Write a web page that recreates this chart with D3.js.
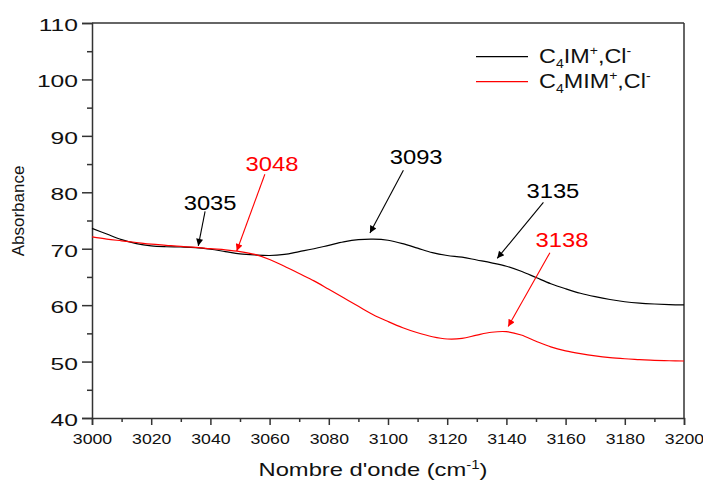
<!DOCTYPE html>
<html>
<head>
<meta charset="utf-8">
<script src="https://cdn.jsdelivr.net/npm/d3@7"></script>
<style>
  body { margin: 0; background: #fff; }
  text { font-family: "Liberation Sans", Arial, sans-serif; }
</style>
</head>
<body>
<div id="chart"></div>
<script>
// IR spectra, 3000-3200 cm-1
const wavenumbers = d3.range(3000, 3201, 5);

const c4imValues = [
  73.6, 72.6, 71.6, 70.9, 70.5, 70.35, 70.3, 70.2, 69.9, 69.5,
  69.1, 68.9, 68.8, 69.0, 69.5, 70.0, 70.6, 71.2, 71.6, 71.7,
  71.5, 70.9, 70.1, 69.3, 68.8, 68.5, 68.0, 67.5, 66.9, 66.0,
  64.9, 63.8, 62.9, 62.1, 61.5, 61.0, 60.6, 60.35, 60.2, 60.1, 60.05
];

const c4mimValues = [
  72.1, 71.7, 71.4, 71.1, 70.8, 70.6, 70.4, 70.25, 70.0, 69.8,
  69.5, 69.0, 68.1, 66.9, 65.6, 64.3, 62.8, 61.3, 59.8, 58.3,
  57.1, 56.0, 55.1, 54.4, 54.0, 54.1, 54.7, 55.2, 55.3, 54.7,
  53.6, 52.6, 51.9, 51.4, 51.0, 50.7, 50.5, 50.35, 50.2, 50.15, 50.1
];

const xTicks = d3.range(3000, 3201, 20);
const yTicks = d3.range(40, 111, 10);

// peak annotations (data units): label, colour, label pos, arrow start, arrow tip
const annLabels = ["3035", "3048", "3093", "3135", "3138"];
const annColors = ["#000", "#ff0000", "#000", "#000", "#ff0000"];
const annTextX = [3039.9, 3060.8, 3109.5, 3155.7, 3158.8];
const annTextY = [76.9, 83.8, 85.1, 78.9, 70.3];
const annFromX = [3038.2, 3058.4, 3105.2, 3152.5, 3154.7];
const annFromY = [76.6, 83.2, 83.9, 78.2, 69.3];
const annToX = [3035.9, 3048.9, 3093.9, 3136.9, 3140.6];
const annToY = [70.5, 69.6, 72.8, 68.3, 56.2];

const width = 703, height = 482;
const margin = {top: 23, right: 19, bottom: 64, left: 92};

const svg = d3.select("#chart").append("svg")
    .attr("width", width)
    .attr("height", height);

const x = d3.scaleLinear().domain([3000, 3200]).range([margin.left, width - margin.right]);
const y = d3.scaleLinear().domain([40, 110]).range([height - margin.bottom, margin.top]);

const axisColor = "#333";
const textColor = "#111";

// the original figure's text is wider than the font, so stretch it sideways
function stretch(sel, sx) {
  sel.each(function() {
    const t = d3.select(this);
    const tx = +t.attr("x") || 0, ty = +t.attr("y") || 0;
    t.attr("x", 0).attr("y", 0)
     .attr("transform", `translate(${tx},${ty}) scale(${sx},1)`);
  });
}

// box (top / right)
svg.append("line")
    .attr("x1", x(3000)).attr("x2", x(3200))
    .attr("y1", y(110)).attr("y2", y(110))
    .attr("stroke", axisColor).attr("stroke-width", 1.5);
svg.append("line")
    .attr("x1", x(3200)).attr("x2", x(3200))
    .attr("y1", y(110)).attr("y2", y(40))
    .attr("stroke", axisColor).attr("stroke-width", 1.5);

// x axis
const xAxis = svg.append("g")
    .attr("transform", `translate(0,${y(40)})`)
    .call(d3.axisBottom(x).tickValues(xTicks).tickSize(7).tickPadding(8).tickFormat(d3.format("d")));
svg.append("g")
    .attr("class", "minor")
    .attr("transform", `translate(0,${y(40)})`)
    .call(d3.axisBottom(x).tickValues(d3.range(3010, 3200, 20)).tickSize(4).tickFormat(""))
    .call(g => g.select(".domain").remove());

// y axis
const yAxis = svg.append("g")
    .attr("transform", `translate(${x(3000)},0)`)
    .call(d3.axisLeft(y).tickValues(yTicks).tickSize(10).tickPadding(4));
svg.append("g")
    .attr("class", "minor")
    .attr("transform", `translate(${x(3000)},0)`)
    .call(d3.axisLeft(y).tickValues(d3.range(45, 110, 10)).tickSize(5).tickFormat(""))
    .call(g => g.select(".domain").remove());

svg.selectAll(".domain, .tick line")
    .attr("stroke", axisColor).attr("stroke-width", 1.5);
xAxis.selectAll("text").attr("font-size", 15.5).attr("fill", textColor);
stretch(xAxis.selectAll("text"), 1.14);
yAxis.selectAll("text").attr("font-size", 17).attr("fill", textColor).attr("dy", "0.44em");
stretch(yAxis.selectAll("text"), 1.45);

// axis titles
const xTitle = svg.append("text")
    .attr("x", 373)
    .attr("y", 476)
    .attr("text-anchor", "middle")
    .attr("font-size", 19)
    .attr("fill", textColor)
    .text("Nombre d'onde (cm");
xTitle.append("tspan").attr("dy", -7).attr("font-size", 12).text("-1");
xTitle.append("tspan").attr("dy", 7).text(")");
stretch(xTitle, 1.25);

svg.append("text")
    .attr("transform", `translate(24,211) rotate(-90)`)
    .attr("text-anchor", "middle")
    .attr("font-size", 17)
    .attr("fill", textColor)
    .text("Absorbance");

// curves
const line = d3.line()
    .x((d, i) => x(wavenumbers[i]))
    .y(d => y(d))
    .curve(d3.curveCatmullRom);

svg.append("path")
    .datum(c4imValues)
    .attr("d", line)
    .attr("fill", "none")
    .attr("stroke", "#000")
    .attr("stroke-width", 1.2);

svg.append("path")
    .datum(c4mimValues)
    .attr("d", line)
    .attr("fill", "none")
    .attr("stroke", "#ff0000")
    .attr("stroke-width", 1.2);

// arrowheads
const defs = svg.append("defs");
["black", "red"].forEach((name, i) => {
  defs.append("marker")
      .attr("id", "arrow-" + name)
      .attr("viewBox", "0 0 10 10")
      .attr("refX", 10).attr("refY", 5)
      .attr("markerWidth", 11).attr("markerHeight", 7)
      .attr("markerUnits", "userSpaceOnUse")
      .attr("orient", "auto")
      .append("path")
      .attr("d", "M0,0L10,5L0,10z")
      .attr("fill", i === 0 ? "#000" : "#ff0000");
});

annLabels.forEach((lab, i) => {
  const red = annColors[i] !== "#000";
  svg.append("line")
      .attr("x1", x(annFromX[i])).attr("y1", y(annFromY[i]))
      .attr("x2", x(annToX[i])).attr("y2", y(annToY[i]))
      .attr("stroke", annColors[i])
      .attr("stroke-width", 1.1)
      .attr("marker-end", `url(#arrow-${red ? "red" : "black"})`);
  const t = svg.append("text")
      .attr("x", x(annTextX[i]))
      .attr("y", y(annTextY[i]))
      .attr("text-anchor", "middle")
      .attr("font-size", 19.5)
      .attr("fill", annColors[i])
      .text(lab);
  stretch(t, 1.22);
});

// legend
const legendNames = [["C", "4", "IM", "+", ",Cl", "-"], ["C", "4", "MIM", "+", ",Cl", "-"]];
const legendColors = ["#000", "#ff0000"];
legendNames.forEach((parts, i) => {
  const ly = 56.7 + i * 25;
  svg.append("line")
      .attr("x1", 476).attr("x2", 528)
      .attr("y1", ly).attr("y2", ly)
      .attr("stroke", legendColors[i])
      .attr("stroke-width", 1.2);
  const t = svg.append("text")
      .attr("x", 539)
      .attr("y", ly + 6.6)
      .attr("font-size", 20)
      .attr("fill", textColor);
  t.append("tspan").text(parts[0]);
  t.append("tspan").attr("dy", 5).attr("font-size", 12).text(parts[1]);
  t.append("tspan").attr("dy", -5).text(parts[2]);
  t.append("tspan").attr("dy", -8).attr("font-size", 12).text(parts[3]);
  t.append("tspan").attr("dy", 8).text(parts[4]);
  t.append("tspan").attr("dy", -8).attr("font-size", 12).text(parts[5]);
  stretch(t, 1.17);
});
</script>
</body>
</html>
